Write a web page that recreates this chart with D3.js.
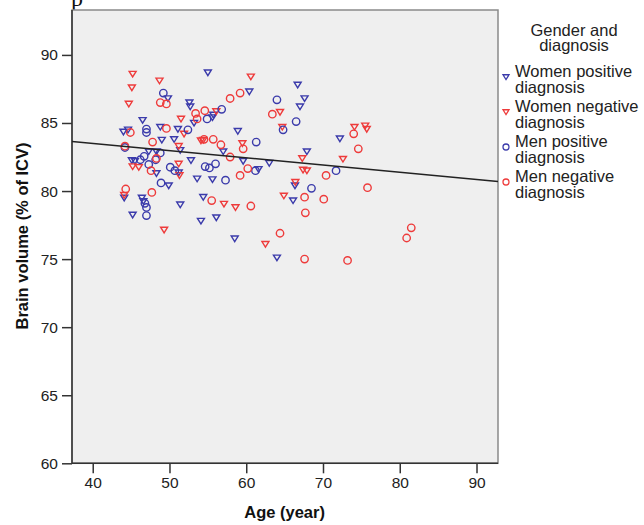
<!DOCTYPE html>
<html>
<head>
<meta charset="utf-8">
<script src="https://cdn.jsdelivr.net/npm/d3@7"></script>
<style>
  html, body { margin: 0; padding: 0; background: #ffffff; }
  svg { display: block; font-family: "Liberation Sans", Arial, sans-serif; }
</style>
</head>
<body>
<svg id="chart" width="644" height="525"></svg>
<script>
// Age (years) and brain volume (% of ICV) per participant, by group
const womenPositive = [
  [55.0, 88.7], [60.4, 87.3], [49.8, 86.8], [52.6, 86.5], [52.7, 86.2],
  [55.7, 85.6], [55.6, 85.4], [53.2, 85.0], [46.5, 85.2], [51.1, 84.55],
  [48.8, 84.7], [44.6, 84.5], [44.0, 84.35], [49.0, 83.75], [50.6, 83.8],
  [51.4, 83.0], [47.3, 82.9], [48.3, 82.9], [45.1, 82.25], [45.5, 82.2],
  [48.3, 81.3], [51.2, 81.35], [52.8, 82.25], [49.9, 80.4], [44.1, 79.5],
  [46.4, 79.5], [46.6, 79.25], [45.2, 78.25], [51.4, 79.0], [57.0, 82.9],
  [58.9, 84.4], [59.6, 82.2], [53.6, 80.9], [55.6, 80.85], [54.4, 79.55],
  [54.1, 77.8], [56.1, 78.05], [58.5, 76.5], [66.7, 87.8], [67.6, 86.8],
  [67.0, 86.2], [61.6, 81.6], [63.0, 82.05], [67.9, 82.9], [72.2, 83.85],
  [66.35, 80.4], [66.1, 79.3], [64.0, 75.1]
];
const womenNegative = [
  [45.2, 88.6], [45.1, 87.6], [44.7, 86.4], [48.7, 88.1], [60.6, 88.4],
  [56.1, 85.85], [51.5, 85.3], [51.9, 84.2], [51.2, 83.3], [45.2, 81.8],
  [46.0, 81.75], [51.2, 82.0], [51.3, 81.15], [44.1, 79.7], [49.3, 77.15],
  [54.1, 83.7], [54.4, 83.75], [59.5, 83.5], [57.1, 79.05], [58.6, 78.8],
  [64.4, 85.8], [64.7, 84.7], [74.1, 84.7], [75.5, 84.8], [75.7, 84.55],
  [67.3, 82.4], [72.6, 82.35], [67.4, 81.55], [67.9, 81.5], [66.4, 80.65],
  [64.9, 79.65], [62.5, 76.1]
];
const menPositive = [
  [49.2, 87.2], [56.8, 86.0], [54.9, 85.3], [52.4, 84.5], [47.0, 84.55],
  [47.0, 84.3], [44.2, 83.2], [48.8, 82.8], [46.7, 82.55], [46.2, 82.3],
  [47.3, 81.95], [48.2, 82.3], [50.1, 81.75], [50.7, 81.5], [48.9, 80.6],
  [47.0, 78.8], [46.8, 79.1], [47.0, 78.2], [54.65, 81.8], [55.2, 81.7],
  [56.0, 82.0], [57.3, 80.8], [64.0, 86.7], [66.5, 85.1], [64.8, 84.5],
  [61.3, 83.6], [61.2, 81.5], [71.7, 81.5], [68.5, 80.2]
];
const menNegative = [
  [48.8, 86.5], [49.6, 86.4], [57.9, 86.8], [59.2, 87.2], [54.6, 85.9],
  [53.4, 85.7], [53.6, 85.3], [49.6, 84.6], [44.9, 84.3], [47.8, 83.6],
  [44.2, 83.3], [48.3, 82.4], [47.6, 81.5], [44.3, 80.15], [47.7, 79.9],
  [55.7, 83.8], [54.5, 83.8], [56.7, 83.4], [57.9, 82.5], [59.6, 83.1],
  [60.2, 81.65], [59.2, 81.15], [55.5, 79.3], [60.6, 78.9], [63.4, 85.65],
  [74.0, 84.2], [74.6, 83.1], [70.4, 81.15], [75.8, 80.25], [67.6, 79.55],
  [70.1, 79.4], [67.7, 78.4], [64.4, 76.9], [67.6, 75.0], [73.2, 74.9],
  [81.5, 77.3], [80.9, 76.55]
];

// Linear fit over all participants: volume = intercept + slope * age
const fitIntercept = 85.63;
const fitSlope = -0.0532;

const xTicks = [40, 50, 60, 70, 80, 90];
const yTicks = [60, 65, 70, 75, 80, 85, 90];
const xDomain = [37.3, 92.8];
const yDomain = [60, 93.3];

const legendTitle = ["Gender and", "diagnosis"];
const groups = [
  { name: ["Women positive", "diagnosis"], data: womenPositive, shape: "tri", color: "#3b3bab" },
  { name: ["Women negative", "diagnosis"], data: womenNegative, shape: "tri", color: "#ee3b3b" },
  { name: ["Men positive", "diagnosis"], data: menPositive, shape: "circle", color: "#3b3bab" },
  { name: ["Men negative", "diagnosis"], data: menNegative, shape: "circle", color: "#ee3b3b" }
];

const svg = d3.select("#chart");
const plot = { left: 72, top: 10, right: 498, bottom: 463.3 };

const x = d3.scaleLinear().domain(xDomain).range([plot.left, plot.right]);
const y = d3.scaleLinear().domain(yDomain).range([plot.bottom, plot.top]);

// Partial caption line above the figure
svg.append("text")
  .attr("x", 71).attr("y", 6)
  .attr("font-family", "'Liberation Serif', 'Times New Roman', serif")
  .attr("font-size", 24).attr("fill", "#111")
  .text("p");

// Plot background and frame
svg.append("rect")
  .attr("x", plot.left).attr("y", plot.top)
  .attr("width", plot.right - plot.left).attr("height", plot.bottom - plot.top)
  .attr("fill", "#efefef")
  .attr("stroke", "#8a8a8a").attr("stroke-width", 1.5);

// Axes
const xAxis = d3.axisBottom(x).tickValues(xTicks).tickSize(10).tickPadding(4).tickSizeOuter(0);
const yAxis = d3.axisLeft(y).tickValues(yTicks).tickSize(10).tickPadding(4).tickSizeOuter(0);

const gx = svg.append("g").attr("transform", `translate(0,${plot.bottom})`).call(xAxis);
const gy = svg.append("g").attr("transform", `translate(${plot.left},0)`).call(yAxis);

[gx, gy].forEach(g => {
  g.select(".domain").attr("stroke", "#333").attr("stroke-width", 1.5);
  g.selectAll(".tick line").attr("stroke", "#333").attr("stroke-width", 1.5);
  g.selectAll(".tick text")
    .attr("font-family", "'Liberation Sans', Arial, sans-serif")
    .attr("font-size", 15.5).attr("fill", "#222");
});
gy.select(".domain").attr("d", `M0,${plot.bottom}V${plot.top}`);
gx.select(".domain").attr("d", `M${plot.left},0H${plot.right}`);

// Axis titles
svg.append("text")
  .attr("x", x(65)).attr("y", 518)
  .attr("text-anchor", "middle")
  .attr("font-weight", "bold").attr("font-size", 16.5).attr("fill", "#111")
  .text("Age (year)");

svg.append("text")
  .attr("transform", `translate(28,${y(76.7)}) rotate(-90)`)
  .attr("text-anchor", "middle")
  .attr("font-weight", "bold").attr("font-size", 16.5).attr("fill", "#111")
  .text("Brain volume (% of ICV)");

// Marker drawing
const triPath = s => `M${-s},${-s * 0.75}L${s},${-s * 0.75}L0,${s * 0.85}Z`;

function drawMarker(sel, shape, color) {
  if (shape === "tri") {
    sel.append("path")
      .attr("d", triPath(3.5))
      .attr("fill", "none").attr("stroke", color).attr("stroke-width", 1.4);
  } else {
    sel.append("circle")
      .attr("r", 3.7)
      .attr("fill", "none").attr("stroke", color).attr("stroke-width", 1.4);
  }
}

const clip = svg.append("defs").append("clipPath").attr("id", "plotClip");
clip.append("rect")
  .attr("x", plot.left).attr("y", plot.top)
  .attr("width", plot.right - plot.left).attr("height", plot.bottom - plot.top);

const marks = svg.append("g").attr("clip-path", "url(#plotClip)");

groups.forEach(g => {
  marks.append("g").selectAll("g")
    .data(g.data)
    .join("g")
    .attr("transform", d => `translate(${x(d[0])},${y(d[1])})`)
    .each(function () { drawMarker(d3.select(this), g.shape, g.color); });
});

// Fit line
marks.append("line")
  .attr("x1", x(xDomain[0])).attr("y1", y(fitIntercept + fitSlope * xDomain[0]))
  .attr("x2", x(xDomain[1])).attr("y2", y(fitIntercept + fitSlope * xDomain[1]))
  .attr("stroke", "#222").attr("stroke-width", 1.5);

// Legend
const legend = svg.append("g").attr("font-size", 16.5).attr("fill", "#222");
legendTitle.forEach((t, i) => {
  legend.append("text")
    .attr("x", 574).attr("y", 36 + i * 15)
    .attr("text-anchor", "middle")
    .attr("fill", "#222")
    .text(t);
});

groups.forEach((g, i) => {
  const top = 77 + i * 35;
  const item = legend.append("g");
  g.name.forEach((t, j) => {
    item.append("text")
      .attr("x", 515).attr("y", top + j * 16)
      .attr("fill", "#222")
      .text(t);
  });
  const m = item.append("g").attr("transform", `translate(506,${top})`);
  if (g.shape === "tri") {
    m.append("path").attr("d", triPath(3)).attr("fill", "none")
      .attr("stroke", g.color).attr("stroke-width", 1.3);
  } else {
    m.append("circle").attr("r", 3).attr("fill", "none")
      .attr("stroke", g.color).attr("stroke-width", 1.3);
  }
});
</script>
</body>
</html>
